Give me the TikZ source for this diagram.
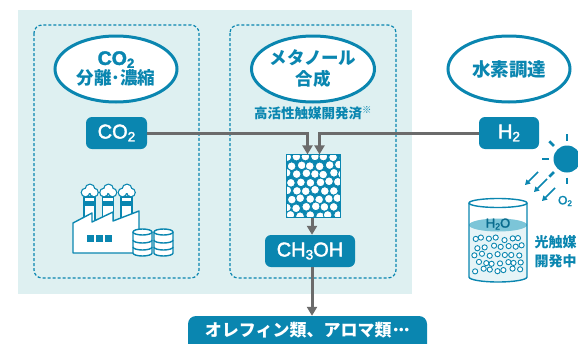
\documentclass[tikz,border=0pt]{standalone}
\usepackage{fontspec}
\setmainfont{Noto Sans CJK JP}
\newfontfamily\latinfont{Liberation Sans}[FakeBold=2]
\usetikzlibrary{shapes.geometric,arrows.meta}

\definecolor{brand}{HTML}{0A86B0}
\definecolor{panel}{HTML}{DEF0F1}
\definecolor{flowgray}{HTML}{6B6B6B}
\definecolor{watertop}{HTML}{7CC5D8}
\definecolor{waterbody}{HTML}{E6F4F7}

% Latin chemical formula with a lowered subscript
\newcommand{\chemsub}[1]{\raisebox{-0.28ex}{\fontsize{0.68em}{0.7em}\selectfont #1}}

\tikzset{
  titleoval/.style={ellipse, draw=brand, line width=3pt, fill=white,
    minimum width=122pt, minimum height=66pt, inner sep=0pt, text=brand,
    align=center, font=\fontsize{17.5}{21}\selectfont\bfseries},
  pill/.style={fill=brand, rounded corners=6pt, text=white, inner sep=0pt,
    minimum height=32pt, font=\fontsize{20}{21}\selectfont\latinfont},
  stagebox/.style={draw=brand, line width=1.2pt, dash pattern=on 3pt off 2pt,
    rounded corners=8pt},
  flow/.style={draw=flowgray, line width=3pt},
  flowarrow/.style={flow, -{Triangle[width=10pt,length=9pt]}},
  sunarrow/.style={draw=brand, line width=1.5pt, -{Triangle[width=5.5pt,length=5pt]}},
  iconline/.style={draw=brand, line width=1.4pt, line join=round},
  bubble/.style={draw=brand, fill=white, line width=0.9pt},
}

\begin{document}
\begin{tikzpicture}[x=1pt,y=-1pt]
\useasboundingbox (0,0) rectangle (578,343);

% shaded process panel
\fill[panel] (18,10) rectangle (412,294);

% stage frames
\draw[stagebox] (34,25) rectangle (199,278);
\draw[stagebox] (230,25) rectangle (396,278);

% stage titles
\node[titleoval] (sep) at (116,69)
  {{\latinfont\fontsize{19.5}{21}\selectfont CO\chemsub{2}}\\[-1pt]分離･濃縮};
\node[titleoval] (syn) at (313,69) {メタノール\\合成};
\node[titleoval, font=\fontsize{18.5}{21}\selectfont\bfseries] (h2src) at (509,69) {水素調達};

\node[text=brand, font=\fontsize{13.5}{15}\selectfont\bfseries] (note) at (313,113)
  {高活性触媒開発済\textsuperscript{※}};

% feed gases
\node[pill, minimum width=61pt] (co2) at (116.5,133) {CO\chemsub{2}};
\node[pill, minimum width=60pt] (h2) at (509,133) {H\chemsub{2}};

% catalyst bed
\node[draw=brand, fill=brand, line width=1.2pt, minimum width=53pt,
  minimum height=62pt, inner sep=0pt] (cat) at (313.5,186) {};
\begin{scope}
  \clip (cat.south west) rectangle (cat.north east);
  \pgfmathsetseed{11}
  \foreach \r in {0,...,7}{
    \foreach \c in {0,...,6}{
      \pgfmathsetmacro\xx{286.5+\c*9.4+mod(\r,2)*4.7+rand*1.2}
      \pgfmathsetmacro\yy{157+\r*8.4+rand*1.2}
      \draw[bubble] (\xx,\yy) circle (4.4pt);
    }
  }
\end{scope}
\draw[draw=brand, line width=1.4pt] (cat.south west) rectangle (cat.north east);

% products
\node[pill, minimum width=90pt] (meoh) at (310,251) {CH\chemsub{3}OH};
\node[fill=brand, rounded corners=8pt, minimum width=239pt, minimum height=44pt,
  inner sep=0pt] (prodbg) at (307.5,338) {};
\node[text=white, font=\fontsize{17}{19}\selectfont\bfseries] (prod) at (308,330)
  {オレフィン類、アロマ類･\kern-3pt･\kern-3pt･};

% flows
\draw[flowarrow] (co2.east) -| ([xshift=-6pt]cat.north);
\draw[flowarrow] (h2.west) -| ([xshift=6pt]cat.north);
\draw[flowarrow] (cat.south -| meoh.north) ++(2,0) coordinate (catout) -- (catout |- meoh.north);
\draw[flowarrow] ([xshift=2pt]meoh.south) -- ([xshift=2pt]meoh.south |- prodbg.north);

% factory icon: chimneys and smoke
\foreach \cx in {89.5,108,126.5}{
  \filldraw[iconline, fill=white] (\cx-5.5,226) rectangle (\cx+5.5,197);
  \fill[brand] (\cx-5.5,201) rectangle (\cx+5.5,205.5);
  \foreach \dx/\dy/\rr in {-4/192.5/3.6, 0.5/189/4.2, 4.5/192.5/3.6}
    \fill[brand] (\cx+\dx,\dy) circle (\rr pt+1.3pt);
  \foreach \dx/\dy/\rr in {-4/192.5/3.6, 0.5/189/4.2, 4.5/192.5/3.6}
    \fill[white] (\cx+\dx,\dy) circle (\rr pt);
}
% factory building
\filldraw[iconline, fill=white] (73,253) -- (73,223) -- (92,213) -- (92,222)
  -- (113,212) -- (113,221) -- (139,211) -- (139,253) -- cycle;
\foreach \wx in {87,96,105}
  \fill[brand] (\wx,235) rectangle (\wx+6.5,242);
% storage drums
\foreach \dcx in {142.5,163.5}{
  \filldraw[iconline, fill=white] (\dcx-9.5,232) -- (\dcx-9.5,253)
    arc[start angle=180, end angle=360, x radius=9.5pt, y radius=3pt]
    -- (\dcx+9.5,232);
  \filldraw[iconline, fill=white] (\dcx,232) ellipse[x radius=9.5pt, y radius=3pt];
  \foreach \by in {240,247}
    \draw[iconline] (\dcx-9.5,\by) arc[start angle=180, end angle=360, x radius=9.5pt, y radius=3pt];
}

% sun
\fill[brand] (567,159) circle (13.5pt);
\foreach \a in {0,45,...,315}
  \draw[brand, line width=2.6pt] (567,159) ++(\a:18.5pt) -- ++(\a:6.5pt);
\draw[sunarrow] (538,172) -- (525,185);
\draw[sunarrow] (547,179) -- (534,192);
\draw[sunarrow] (555,188) -- (542,201);
\node[text=brand, font=\fontsize{12}{13}\selectfont\latinfont] (o2) at (565,201) {O\chemsub{2}};

% photocatalyst beaker
\fill[white] (469,203) -- (469,277)
  arc[start angle=180, end angle=360, x radius=29pt, y radius=5pt] -- (527,203) -- cycle;
\fill[waterbody] (469,225) -- (469,277)
  arc[start angle=180, end angle=360, x radius=29pt, y radius=5pt] -- (527,225) -- cycle;
\fill[watertop] (498,225) ellipse[x radius=29pt, y radius=6.5pt];
\draw[iconline] (469,203) -- (469,277)
  arc[start angle=180, end angle=360, x radius=29pt, y radius=5pt] -- (527,203);
\draw[iconline, fill=white] (498,203) ellipse[x radius=29pt, y radius=4.5pt];
\node[text=brand!80!black, font=\fontsize{13}{14}\selectfont\latinfont] (h2o) at (498,224) {H\chemsub{2}O};
\pgfmathsetseed{5}
\foreach \r in {0,...,4}{
  \foreach \c in {0,...,6}{
    \pgfmathsetmacro\bx{475+\c*7.3+mod(\r,2)*3.2+rand*1.6}
    \pgfmathsetmacro\by{239+\r*7.8+rand*1.6}
    \draw[bubble] (\bx,\by) circle (2.6pt);
  }
}
\node[text=brand, anchor=west, align=left, font=\fontsize{14}{19}\selectfont\bfseries]
  (pc) at (531,252) {光触媒\\開発中};

\end{tikzpicture}
\end{document}
